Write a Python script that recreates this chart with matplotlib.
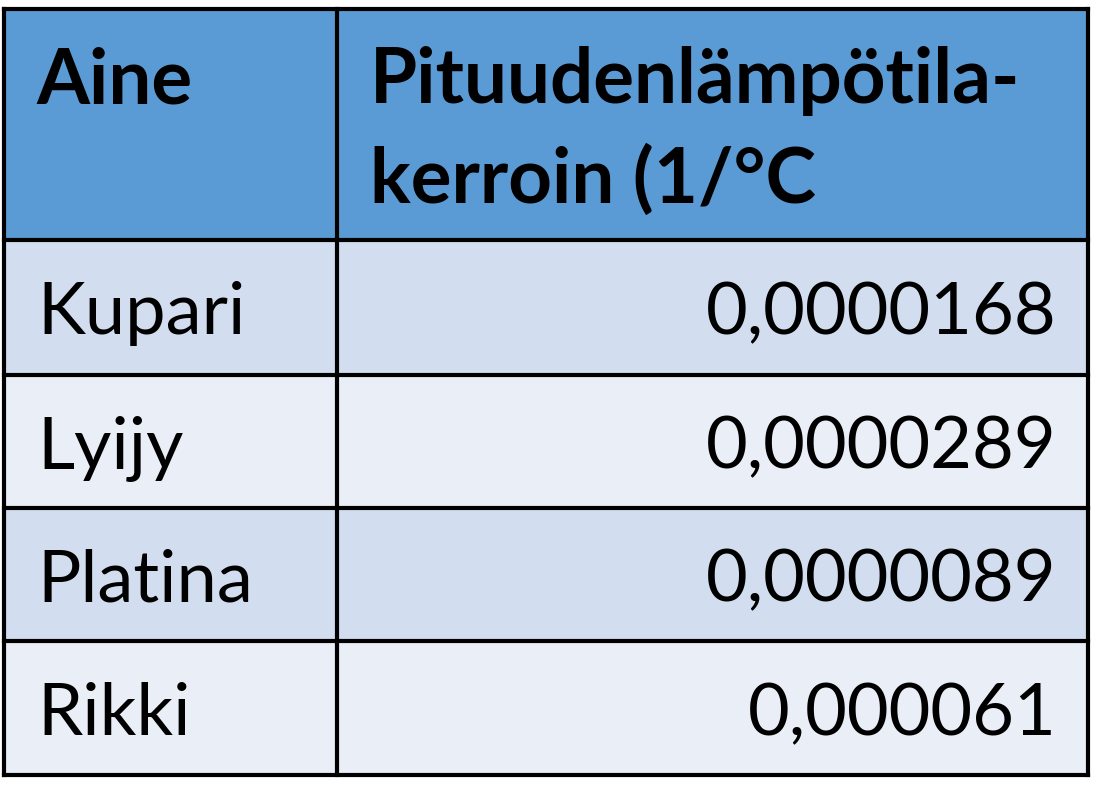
import matplotlib.pyplot as plt
from matplotlib.patches import Rectangle

# data of the table
otsikot = ["Aine", "Pituudenlämpötila-\nkerroin (1/°C"]
aineet = ["Kupari", "Lyijy", "Platina", "Rikki"]
arvot = ["0,0000168", "0,0000289", "0,0000089", "0,000061"]

# layout in pixels
W, H = 1093, 807
x0, xs, x1 = 4, 337, 1088
rivit = [9, 240, 375, 508, 641, 775]
vari_otsikko = "#5B9BD5"
vari_rivit = ["#D2DEEF", "#EAEFF7"]

plt.rcParams['font.family'] = ['Lato', 'DejaVu Sans']

fig = plt.figure(figsize=(W / 100, H / 100), dpi=100)
ax = fig.add_axes([0, 0, 1, 1])
ax.set_xlim(0, W)
ax.set_ylim(H, 0)
ax.axis("off")

# taustat
ax.add_patch(Rectangle((x0, rivit[0]), x1 - x0, rivit[1] - rivit[0], color=vari_otsikko, lw=0))
for i in range(len(aineet)):
    ax.add_patch(Rectangle((x0, rivit[i + 1]), x1 - x0, rivit[i + 2] - rivit[i + 1],
                           color=vari_rivit[i % 2], lw=0))

# otsikot
rivi1, rivi2 = otsikot[1].split("\n")
ax.text(36, 103, otsikot[0], fontsize=55, fontweight="bold", ha="left", va="baseline")
ax.text(370, 103, rivi1, fontsize=55, fontweight="bold", ha="left", va="baseline")
ax.text(370, 203, rivi2, fontsize=55, fontweight="bold", ha="left", va="baseline")

# rivit
for i, (nimi, arvo) in enumerate(zip(aineet, arvot)):
    yk = (rivit[i + 1] + rivit[i + 2]) / 2
    ax.text(37, yk + 27, nimi, fontsize=52, ha="left", va="baseline")
    ax.text(1057, yk + 27, arvo, fontsize=52, ha="right", va="baseline")

# viivat
for y in rivit:
    ax.plot([x0, x1], [y, y], color="black", lw=3, solid_capstyle="projecting")
for x in [x0, xs, x1]:
    ax.plot([x, x], [rivit[0], rivit[-1]], color="black", lw=3, solid_capstyle="projecting")

plt.savefig("out.png", dpi=100)
